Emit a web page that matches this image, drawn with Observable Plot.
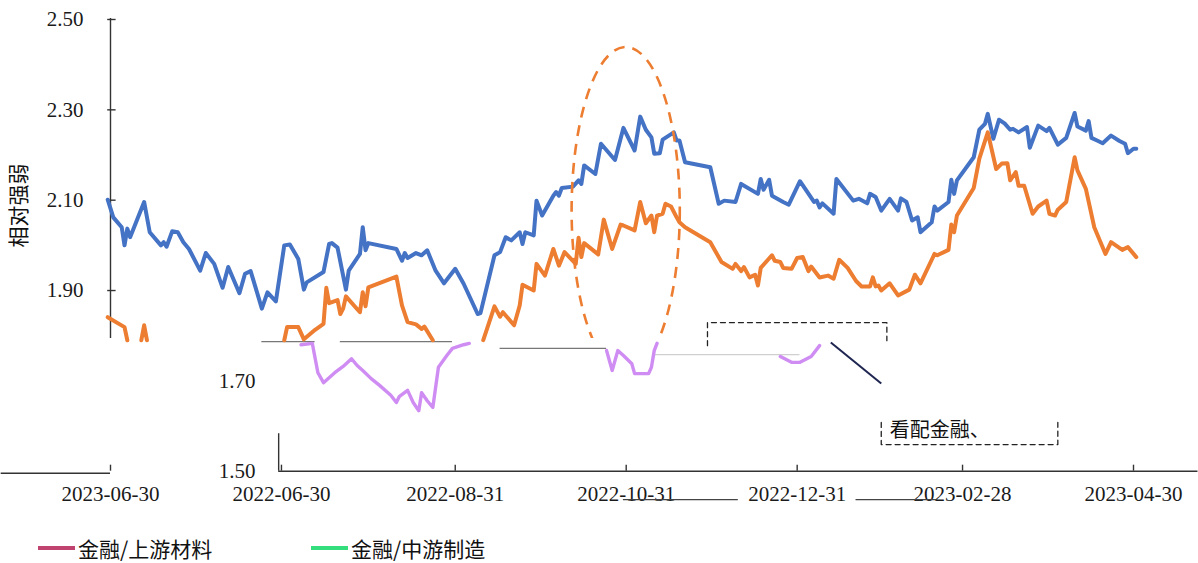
<!DOCTYPE html>
<html><head><meta charset="utf-8">
<script src="https://cdn.jsdelivr.net/npm/d3@7"></script>
<script src="https://cdn.jsdelivr.net/npm/@observablehq/plot@0.6"></script>
<style>
body{margin:0;background:#fff;width:1198px;height:563px;overflow:hidden;}
#chart svg{display:block}
#legend{position:relative;width:1198px;height:53px;font-family:"Noto Sans CJK SC",sans-serif;font-size:21px;color:#111}
.item{position:absolute;top:26px;display:flex;align-items:center;height:24px;white-space:nowrap}
.sw{width:37px;height:4px;margin-right:3px}
</style></head>
<body><div id="chart"></div><div id="legend"></div>
<script>
// ---------- data ----------
const yTitle = "相对强弱";
const legendNames = ["金融/上游材料", "金融/中游制造"];
const legendColors = ["#c0426e", "#35de7c"];
const xDomain = ["2022-04-30", "2023-04-30"];
const xTickDates = ["2022-04-30","2022-06-30","2022-08-31","2022-10-31","2022-12-31","2023-02-28","2023-04-30"];
const xTickLabels = ["2023-06-30","2022-06-30","2022-08-31","2022-10-31","2022-12-31","2023-02-28","2023-04-30"];
const yTicksUpper = [1.90, 2.10, 2.30, 2.50];
const yTicksLower = [1.50, 1.70];
const cutValue = 1.794;

const blueDates = ["2022-04-29","2022-05-01","2022-05-04","2022-05-05","2022-05-06","2022-05-07","2022-05-12","2022-05-14","2022-05-18","2022-05-19","2022-05-20","2022-05-22","2022-05-24","2022-05-26","2022-05-28","2022-06-01","2022-06-03","2022-06-06","2022-06-09","2022-06-11","2022-06-15","2022-06-17","2022-06-19","2022-06-23","2022-06-25","2022-06-28","2022-07-01","2022-07-03","2022-07-06","2022-07-08","2022-07-09","2022-07-15","2022-07-17","2022-07-18","2022-07-20","2022-07-23","2022-07-24","2022-07-28","2022-07-29","2022-07-30","2022-07-31","2022-08-10","2022-08-12","2022-08-13","2022-08-14","2022-08-17","2022-08-19","2022-08-21","2022-08-24","2022-08-27","2022-08-31","2022-09-03","2022-09-08","2022-09-09","2022-09-14","2022-09-16","2022-09-18","2022-09-20","2022-09-23","2022-09-24","2022-09-25","2022-09-28","2022-09-29","2022-10-01","2022-10-05","2022-10-06","2022-10-07","2022-10-08","2022-10-12","2022-10-14","2022-10-15","2022-10-16","2022-10-20","2022-10-22","2022-10-27","2022-10-30","2022-11-03","2022-11-05","2022-11-07","2022-11-09","2022-11-10","2022-11-12","2022-11-13","2022-11-17","2022-11-18","2022-11-19","2022-11-21","2022-11-30","2022-12-03","2022-12-05","2022-12-09","2022-12-11","2022-12-17","2022-12-18","2022-12-19","2022-12-21","2022-12-22","2022-12-26","2022-12-28","2023-01-01","2023-01-06","2023-01-07","2023-01-08","2023-01-09","2023-01-13","2023-01-14","2023-01-20","2023-01-22","2023-01-25","2023-01-26","2023-01-28","2023-01-30","2023-02-02","2023-02-05","2023-02-06","2023-02-08","2023-02-10","2023-02-12","2023-02-13","2023-02-17","2023-02-18","2023-02-19","2023-02-23","2023-02-24","2023-02-25","2023-02-26","2023-03-04","2023-03-06","2023-03-08","2023-03-09","2023-03-11","2023-03-13","2023-03-15","2023-03-17","2023-03-18","2023-03-20","2023-03-23","2023-03-24","2023-03-27","2023-03-30","2023-03-31","2023-04-03","2023-04-06","2023-04-09","2023-04-10","2023-04-13","2023-04-14","2023-04-15","2023-04-17","2023-04-19","2023-04-22","2023-04-25","2023-04-27","2023-04-28","2023-04-30","2023-05-01"];
const blueValues = [2.101,2.062,2.040,2.000,2.037,2.018,2.096,2.029,2.000,2.007,1.997,2.031,2.029,2.007,1.992,1.944,1.983,1.959,1.906,1.952,1.894,1.937,1.943,1.860,1.896,1.876,2.000,2.002,1.970,1.902,1.918,1.941,2.003,2.005,1.995,1.902,1.944,1.981,2.040,1.989,2.005,1.992,1.966,1.983,1.972,1.983,1.978,1.989,1.944,1.916,1.948,1.915,1.848,1.850,1.978,1.985,2.018,2.011,2.029,2.003,2.029,2.022,2.099,2.066,2.110,2.118,2.110,2.127,2.130,2.144,2.136,2.177,2.158,2.225,2.189,2.260,2.210,2.285,2.256,2.239,2.203,2.204,2.234,2.250,2.232,2.232,2.184,2.173,2.092,2.099,2.096,2.136,2.114,2.147,2.123,2.145,2.110,2.096,2.090,2.142,2.096,2.099,2.084,2.093,2.070,2.147,2.099,2.103,2.093,2.114,2.107,2.077,2.103,2.077,2.104,2.096,2.055,2.062,2.029,2.051,2.086,2.077,2.096,2.145,2.114,2.144,2.195,2.256,2.269,2.291,2.236,2.278,2.270,2.256,2.258,2.250,2.262,2.216,2.265,2.253,2.260,2.223,2.238,2.293,2.263,2.254,2.275,2.238,2.232,2.226,2.243,2.231,2.225,2.204,2.214,2.214];

// null = hidden (cut) stretch of the orange series
const orangeDates = ["2022-04-29","2022-05-05","2022-05-06","2022-05-08","2022-05-11","2022-05-12","2022-05-13","2022-06-30","2022-07-01","2022-07-02","2022-07-06","2022-07-08","2022-07-12","2022-07-15","2022-07-16","2022-07-17","2022-07-20","2022-07-21","2022-07-22","2022-07-23","2022-07-28","2022-07-29","2022-07-30","2022-07-31","2022-08-10","2022-08-12","2022-08-14","2022-08-17","2022-08-19","2022-08-20","2022-08-23","2022-08-24","2022-09-10","2022-09-14","2022-09-16","2022-09-17","2022-09-21","2022-09-23","2022-09-24","2022-09-28","2022-09-29","2022-10-02","2022-10-05","2022-10-07","2022-10-09","2022-10-13","2022-10-14","2022-10-15","2022-10-16","2022-10-21","2022-10-23","2022-10-26","2022-10-29","2022-10-30","2022-11-03","2022-11-05","2022-11-07","2022-11-09","2022-11-10","2022-11-11","2022-11-13","2022-11-14","2022-11-16","2022-11-18","2022-11-19","2022-11-21","2022-11-30","2022-12-04","2022-12-08","2022-12-09","2022-12-11","2022-12-12","2022-12-14","2022-12-16","2022-12-17","2022-12-18","2022-12-22","2022-12-23","2022-12-25","2022-12-26","2022-12-29","2022-12-31","2023-01-02","2023-01-04","2023-01-05","2023-01-08","2023-01-11","2023-01-13","2023-01-15","2023-01-18","2023-01-21","2023-01-23","2023-01-26","2023-01-27","2023-01-28","2023-01-29","2023-01-30","2023-02-02","2023-02-05","2023-02-09","2023-02-11","2023-02-13","2023-02-18","2023-02-19","2023-02-23","2023-02-24","2023-02-25","2023-02-26","2023-03-04","2023-03-06","2023-03-09","2023-03-12","2023-03-14","2023-03-16","2023-03-17","2023-03-19","2023-03-20","2023-03-22","2023-03-25","2023-03-27","2023-03-30","2023-03-31","2023-04-02","2023-04-03","2023-04-06","2023-04-09","2023-04-10","2023-04-13","2023-04-16","2023-04-20","2023-04-22","2023-04-26","2023-04-28","2023-05-01"];
const orangeValues = [1.841,1.819,1.790,null,1.790,1.823,1.790,null,1.790,1.819,1.819,1.792,1.813,1.826,1.906,1.872,1.879,1.848,1.860,1.887,1.852,1.896,1.865,1.907,1.931,1.867,1.830,1.825,1.815,1.820,1.790,null,1.790,1.865,1.842,1.852,1.823,1.867,1.913,1.900,1.959,1.933,1.992,1.955,1.985,1.959,2.017,1.974,2.005,1.980,2.057,1.992,2.046,2.044,2.033,2.096,2.049,2.066,2.029,2.066,2.070,2.092,2.086,2.062,2.051,2.040,2.007,1.963,1.948,1.959,1.943,1.952,1.929,1.935,1.911,1.950,1.978,1.966,1.963,1.950,1.948,1.972,1.974,1.943,1.953,1.929,1.933,1.926,1.968,1.950,1.921,1.909,1.909,1.929,1.909,1.911,1.900,1.916,1.889,1.902,1.935,1.916,1.981,1.978,1.990,2.046,2.029,2.066,2.127,2.192,2.250,2.169,2.181,2.182,2.144,2.162,2.132,2.132,2.070,2.086,2.099,2.070,2.066,2.079,2.096,2.195,2.166,2.125,2.040,1.981,2.007,1.990,1.996,1.974];

// violet fragments visible in the lower band
const fragDates = ["2022-07-07","2022-07-11","2022-07-13","2022-07-15","2022-07-19","2022-07-22","2022-07-25","2022-07-27","2022-07-29","2022-08-01","2022-08-04","2022-08-08","2022-08-10","2022-08-11","2022-08-14","2022-08-16","2022-08-18","2022-08-19","2022-08-21","2022-08-23","2022-08-25","2022-08-28","2022-08-30","2022-09-03","2022-09-05","2022-09-06","2022-10-24","2022-10-26","2022-10-28","2022-10-30","2022-11-02","2022-11-03","2022-11-08","2022-11-09","2022-11-10","2022-11-11","2022-11-12","2022-12-25","2022-12-29","2023-01-01","2023-01-05","2023-01-08"];
const fragValues = [1.780,1.783,1.718,1.696,1.718,1.732,1.749,1.734,1.723,1.705,1.690,1.668,1.652,1.665,1.679,1.652,1.634,1.674,1.656,1.641,1.730,1.756,1.772,1.780,1.783,null,1.767,1.723,1.767,1.756,1.738,1.716,1.716,1.730,1.767,1.783,null,1.754,1.741,1.741,1.754,1.778];

// annotations
const ellipseNote = {date: "2022-10-31", value: 2.077, halfDays: 19.3, halfValue: 0.361};
const greyLines = [
  {from: "2022-06-23", to: "2022-07-12", v: 1.787, c: "#777"},
  {from: "2022-07-21", to: "2022-08-30", v: 1.787, c: "#777"},
  {from: "2022-09-16", to: "2022-10-24", v: 1.772, c: "#777"},
  {from: "2022-11-10", to: "2023-01-01", v: 1.758, c: "#d0d0d0"}
];
const boxTop = [["2022-11-29",1.778],["2022-11-29",1.829],["2023-02-01",1.829],["2023-02-01",1.789]];
const boxBottom = [["2023-01-30",1.608],["2023-01-30",1.559],["2023-04-03",1.559],["2023-04-03",1.608]];
const pointer = [{x1: "2023-01-12", y1: 1.785, x2: "2023-01-30", y2: 1.694}];
const noteText = [{date: "2023-02-02", v: 1.590, t: "看配金融、"}];
const axisLines = [
  {x1: "2022-06-29", x2: "2023-05-23", v: 1.5},
  {x1: "2022-03-22", x2: "2022-04-30", v: 1.4956}
];
const underlines = [
  {x1: "2022-10-30", x2: "2022-12-10", v: 1.437},
  {x1: "2023-01-21", x2: "2023-02-19", v: 1.437}
];

// ---------- build ----------
const D = s => new Date(s);
const blue = blueDates.map((d, i) => ({date: D(d), value: blueValues[i]}));
const orange = orangeDates.map((d, i) => ({date: D(d), value: orangeValues[i]}));
const frag = fragDates.map((d, i) => ({date: D(d), value: fragValues[i]}));
const labelMap = new Map(xTickDates.map((d, i) => [+D(d), xTickLabels[i]]));
const fmt = d3.format(".2f");
const cjk = "'Noto Sans CJK SC', sans-serif";

const plot = Plot.plot({
  width: 1198, height: 510,
  marginTop: 19, marginBottom: 39, marginLeft: 110, marginRight: 9,
  style: {fontFamily: "'Liberation Serif', serif", fontSize: "21px", color: "#1a1a1a", background: "#fff", overflow: "visible"},
  x: {type: "utc", domain: xDomain.map(D), range: [110, 1133]},
  y: {domain: [1.5, 2.5], range: [470.7, 19]},
  marks: [
    // axes
    Plot.axisY(yTicksUpper, {anchor: "left", tickSize: 0, tickPadding: 27, tickFormat: fmt, label: null}),
    Plot.axisY(yTicksLower, {anchor: "left", tickSize: 0, tickPadding: -145, tickFormat: fmt, label: null}),
    Plot.axisX(xTickDates.map(D), {tickSize: 0, tickPadding: 15, tickFormat: d => labelMap.get(+d), label: null}),
    Plot.ruleX([D(xDomain[0])], {y1: cutValue, y2: 2.502, stroke: "#333", strokeWidth: 1.4}),
    Plot.ruleX([D("2022-06-29")], {y1: 1.5, y2: 1.583, stroke: "#333", strokeWidth: 1.4}),
    Plot.ruleY(yTicksUpper, {x1: D("2022-04-29"), x2: D("2022-05-02"), stroke: "#333", strokeWidth: 1.4}),
    Plot.ruleY(axisLines, {x1: d => D(d.x1), x2: d => D(d.x2), y: "v", stroke: "#333", strokeWidth: 1.6}),
    Plot.ruleX(xTickDates.map(D), {y1: 1.5, y2: 1.5133, stroke: "#333", strokeWidth: 1.4}),
    Plot.ruleY(underlines, {x1: d => D(d.x1), x2: d => D(d.x2), y: "v", stroke: "#444", strokeWidth: 1.2}),
    // fragments
    Plot.ruleY(greyLines, {x1: d => D(d.from), x2: d => D(d.to), y: "v", stroke: "c", strokeWidth: 1.3}),
    Plot.line(frag, {x: "date", y: "value", stroke: "#cf8cf2", strokeWidth: 3.4}),
    Plot.line(boxTop, {x: d => D(d[0]), y: d => d[1], stroke: "#222", strokeWidth: 1.3, strokeDasharray: "5,4"}),
    Plot.line(boxBottom, {x: d => D(d[0]), y: d => d[1], stroke: "#222", strokeWidth: 1.3, strokeDasharray: "5,4"}),
    Plot.link(pointer, {x1: d => D(d.x1), y1: "y1", x2: d => D(d.x2), y2: "y2", stroke: "#1e2550", strokeWidth: 2}),
    Plot.text(noteText, {x: d => D(d.date), y: "v", text: "t", textAnchor: "start", fontFamily: cjk, fontSize: 20, fill: "#111"}),
    // series
    Plot.line(blue, {x: "date", y: "value", stroke: "#4472c4", strokeWidth: 4}),
    Plot.line(orange, {x: "date", y: "value", stroke: "#ed7d31", strokeWidth: 4}),
    // y title
    Plot.text([{t: yTitle, v: 1.995}], {text: "t", y: "v", frameAnchor: "left", dx: -91, rotate: -90, fontFamily: cjk, fontSize: 21, fill: "#111"})
  ]
});
document.getElementById("chart").appendChild(plot);

// dashed ellipse highlight, placed with the plot's own scales
const sx = plot.scale("x"), sy = plot.scale("y");
const svg = d3.select(plot);
svg.append("defs").append("clipPath").attr("id", "cutclip")
  .append("rect").attr("x", 0).attr("y", 0).attr("width", 1198).attr("height", sy.apply(cutValue));
const c = D(ellipseNote.date);
const cx = sx.apply(c), cy = sy.apply(ellipseNote.value);
const rx = sx.apply(new Date(+c + ellipseNote.halfDays * 864e5)) - cx;
const ry = cy - sy.apply(ellipseNote.value + ellipseNote.halfValue);
svg.append("ellipse").attr("cx", cx).attr("cy", cy).attr("rx", rx).attr("ry", ry)
  .attr("fill", "none").attr("stroke", "#ed7d31").attr("stroke-width", 2.6)
  .attr("stroke-dasharray", "11,8").attr("clip-path", "url(#cutclip)");

// legend
const lg = document.getElementById("legend");
const lefts = [38, 311];
legendNames.forEach((n, i) => {
  const it = document.createElement("div");
  it.className = "item"; it.style.left = lefts[i] + "px";
  it.innerHTML = `<span class="sw" style="background:${legendColors[i]}"></span><span>${n}</span>`;
  lg.appendChild(it);
});
</script></body></html>
